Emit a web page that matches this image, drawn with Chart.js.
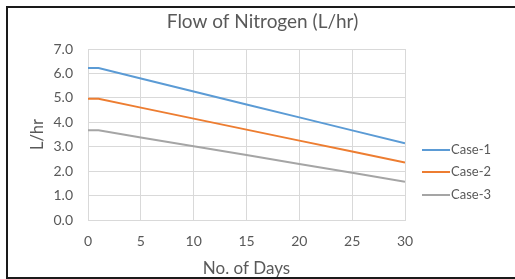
<!DOCTYPE html>
<html>
<head>
<meta charset="utf-8">
<script src="https://cdn.jsdelivr.net/npm/chart.js@4/dist/chart.umd.min.js"></script>
<style>
  html, body { margin: 0; padding: 0; background: #fff; }
  #wrap { position: relative; width: 515px; height: 279px; overflow: hidden; }
  #c { position: absolute; left: 0; top: 0; }
  #frame { position: absolute; left: 6px; top: 6px; width: 520px; height: 269px; border: 2px solid #1a1a1a; pointer-events: none; }
</style>
</head>
<body>
<div id="wrap">
  <canvas id="c" width="515" height="279"></canvas>
  <div id="frame"></div>
</div>
<script>
const chartTitle = 'Flow of Nitrogen (L/hr)';
const xTitle = 'No. of Days';
const yTitle = 'L/hr';
const seriesNames = ['Case-1', 'Case-2', 'Case-3'];
const seriesColors = ['#5B9BD5', '#ED7D31', '#A5A5A5'];
const days  = [0, 1, 5, 10, 15, 20, 25, 30];
const case1 = [6.22, 6.22, 5.79, 5.26, 4.73, 4.20, 3.67, 3.14];
const case2 = [4.96, 4.96, 4.60, 4.15, 3.70, 3.25, 2.80, 2.35];
const case3 = [3.67, 3.67, 3.38, 3.02, 2.66, 2.29, 1.93, 1.57];
const seriesValues = [case1, case2, case3];

const FONT = 'Lato, "Open Sans", sans-serif';
const TEXT = '#595959';
const GRID = '#D9D9D9';

const datasets = seriesNames.map((name, i) => ({
  label: name,
  data: days.map((d, j) => ({ x: d, y: seriesValues[i][j] })),
  borderColor: seriesColors[i],
  backgroundColor: seriesColors[i],
  borderWidth: 2,
  pointRadius: 0,
  tension: 0,
  fill: false,
  yAxisID: 'y'
}));

const legendPlugin = {
  id: 'sideLegend',
  afterDraw(chart) {
    const ctx = chart.ctx;
    ctx.save();
    ctx.font = '13px ' + FONT;
    ctx.textBaseline = 'middle';
    ctx.textAlign = 'left';
    const ys = [150, 172, 195];
    seriesNames.forEach((name, i) => {
      ctx.strokeStyle = seriesColors[i];
      ctx.lineWidth = 2;
      ctx.beginPath();
      ctx.moveTo(422, ys[i]);
      ctx.lineTo(450, ys[i]);
      ctx.stroke();
      ctx.fillStyle = TEXT;
      ctx.fillText(name, 451, ys[i]);
    });
    ctx.restore();
  }
};

new Chart(document.getElementById('c'), {
  type: 'line',
  data: { datasets },
  plugins: [legendPlugin],
  options: {
    responsive: false,
    animation: false,
    layout: { padding: { left: 10, right: 0, top: 0, bottom: 0 } },
    plugins: {
      legend: { display: false },
      tooltip: { enabled: false },
      title: {
        display: true,
        text: chartTitle,
        color: TEXT,
        font: { family: FONT, size: 19, weight: 'normal' },
        padding: { top: 10, bottom: 16.2 }
      }
    },
    scales: {
      x: {
        type: 'linear',
        min: 0, max: 30,
        ticks: { stepSize: 5, color: TEXT, font: { family: FONT, size: 14 }, padding: 13, maxRotation: 0 },
        grid: { color: GRID, drawTicks: false, lineWidth: 1 },
        border: { color: GRID },
        title: { display: true, text: xTitle, color: TEXT, font: { family: FONT, size: 17 }, padding: { top: 0, bottom: 0 } },
        afterFit(scale) { scale.height = 59; }
      },
      y: {
        min: 0, max: 7,
        ticks: { stepSize: 1, color: TEXT, font: { family: FONT, size: 14 }, padding: 15,
                 callback: v => Number(v).toFixed(1) },
        grid: { color: GRID, drawTicks: false, lineWidth: 1 },
        border: { color: GRID },
        title: { display: true, text: yTitle, color: TEXT, font: { family: FONT, size: 16.5 }, padding: { top: 18, bottom: 0 } },
        afterFit(scale) { scale.width = 78; }
      },
      legendSpace: {
        position: 'right',
        display: true,
        ticks: { display: false },
        grid: { display: false, drawTicks: false },
        border: { display: false },
        afterFit(scale) { scale.width = 110; }
      }
    }
  }
});
</script>
</body>
</html>
